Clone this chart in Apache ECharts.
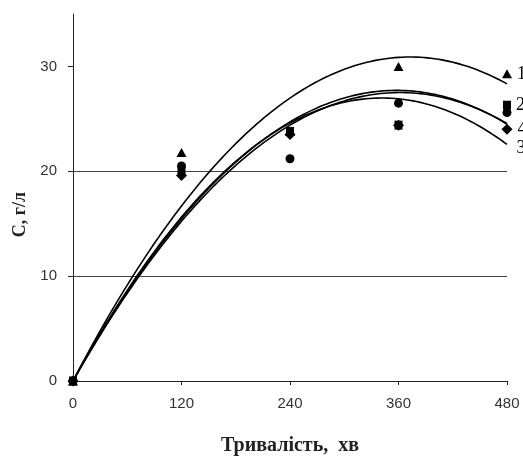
<!DOCTYPE html>
<html>
<head>
<meta charset="utf-8">
<script src="https://cdn.jsdelivr.net/npm/echarts@6/dist/echarts.min.js"></script>
<style>html,body{margin:0;padding:0;background:#fff}#c{width:523px;height:458px}</style>
</head>
<body>
<div id="c"></div>
<script>
// Data
const times = [0, 120, 240, 360, 480];
const series1 = [0, 21.8, 23.8, 30.0, 29.3]; // triangles
const series2 = [0, 20.0, 23.8, 24.4, 26.3]; // squares
const series3 = [0, 20.5, 21.2, 26.5, 25.6]; // circles
const series4 = [0, 19.6, 23.5, 24.4, 24.0]; // diamonds
const seriesNames = ['1', '2', '3', '4'];
const xTickLabels = [0, 120, 240, 360, 480];
const yTickLabels = [0, 10, 20, 30];

// Polynomial (order 2) trendline with intercept set to 0, least squares
function fitQuad0(xs, ys) {
  let s2 = 0, s3 = 0, s4 = 0, sxy = 0, sx2y = 0;
  for (let i = 0; i < xs.length; i++) {
    const x = xs[i], y = ys[i];
    s2 += x * x; s3 += x * x * x; s4 += x * x * x * x;
    sxy += x * y; sx2y += x * x * y;
  }
  const det = s2 * s4 - s3 * s3;
  const a = (sxy * s4 - s3 * sx2y) / det;
  const b = (s2 * sx2y - s3 * sxy) / det;
  const pts = [];
  for (let x = times[0]; x <= times[times.length - 1]; x += 4) pts.push([x, a * x + b * x * x]);
  return pts;
}

const allSeries = [series1, series2, series3, series4];
const symbols = ['triangle', 'rect', 'circle', 'diamond'];
const symbolSizes = [[10, 9], [8, 9], [9, 9], [11, 11]];
const labelOffsets = [[0, 0], [0, 0], [0, 36], [0, 0]];

const chart = echarts.init(document.getElementById('c'), null, {renderer: 'canvas'});
const seriesOpts = [];
allSeries.forEach((vals, k) => {
  seriesOpts.push({
    type: 'line', name: 'fit' + seriesNames[k], data: fitQuad0(times, vals),
    showSymbol: false, symbol: 'none', smooth: false, z: 2, silent: true,
    lineStyle: {color: '#000', width: 1.6}
  });
});
[0, 2, 3, 1].forEach(k => {
  const vals = allSeries[k];
  const data = times.map((t, i) => {
    const item = {value: [t, vals[i]]};
    if (i === times.length - 1) {
      item.label = {
        show: true, position: 'right', distance: 5, formatter: seriesNames[k],
        offset: labelOffsets[k], fontFamily: 'Liberation Serif', fontSize: 18, color: '#000'
      };
    }
    return item;
  });
  seriesOpts.push({
    type: 'scatter', name: seriesNames[k], data: data, symbol: symbols[k],
    symbolSize: symbolSizes[k], z: 3 + k, itemStyle: {color: '#000', opacity: 1}
  });
});

chart.setOption({
  animation: false,
  backgroundColor: '#fff',
  grid: {left: 73, right: 16, top: 14, bottom: 77, containLabel: false, outerBoundsMode: 'none'},
  xAxis: {
    type: 'value', min: 0, max: 480, interval: 120,
    name: 'Тривалість,  хв', nameLocation: 'middle', nameGap: 55,
    nameTextStyle: {fontFamily: 'Liberation Serif', fontWeight: 'bold', fontSize: 20, color: '#222'},
    axisLine: {show: true, onZero: false, lineStyle: {color: '#222', width: 1}},
    axisTick: {show: true, inside: false, length: 4, lineStyle: {color: '#222'}},
    axisLabel: {
      margin: 15, fontFamily: 'Liberation Sans', fontSize: 15, color: '#333',
      customValues: xTickLabels
    },
    splitLine: {show: false}
  },
  yAxis: {
    type: 'value', min: 0, max: 35, interval: 10,
    name: 'C, г/л', nameLocation: 'middle', nameGap: 43, nameRotate: 90,
    nameTextStyle: {fontFamily: 'Liberation Serif', fontWeight: 'bold', fontSize: 18, color: '#222', padding: [0, 34, 0, 0]},
    axisLine: {show: true, onZero: false, lineStyle: {color: '#222', width: 1}},
    axisTick: {show: true, inside: false, length: 5, lineStyle: {color: '#222'}, customValues: yTickLabels},
    axisLabel: {
      margin: 16, fontFamily: 'Liberation Sans', fontSize: 15, color: '#333',
      customValues: yTickLabels
    },
    splitLine: {show: true, showMinLine: false, showMaxLine: false, lineStyle: {color: '#444', width: 1}}
  },
  series: seriesOpts
});
</script>
</body>
</html>
